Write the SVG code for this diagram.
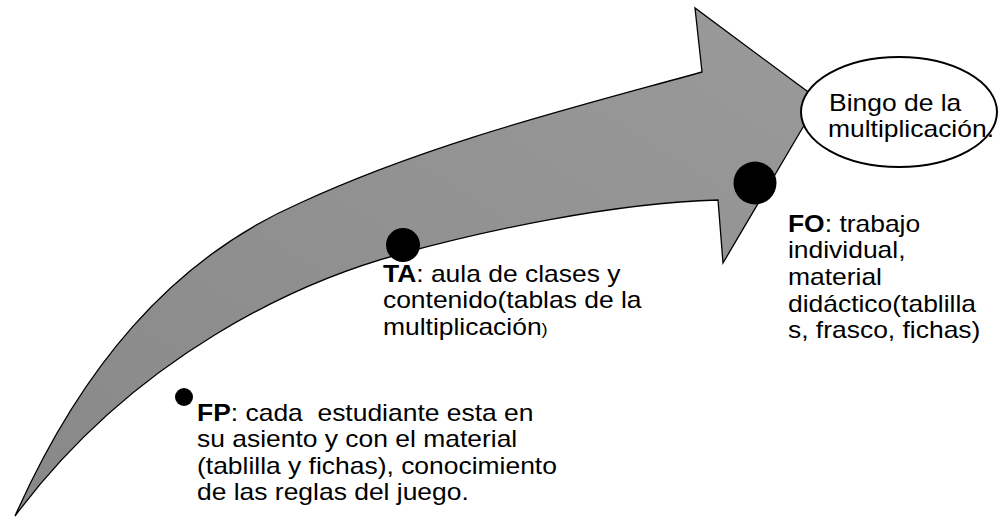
<svg xmlns="http://www.w3.org/2000/svg" width="1000" height="517" viewBox="0 0 1000 517">
<defs>
<linearGradient id="g" x1="0" y1="1" x2="1" y2="0">
<stop offset="0" stop-color="#888888"/>
<stop offset="1" stop-color="#9a9a9a"/>
</linearGradient>
</defs>
<style>
.t{font-family:"Liberation Sans",Arial,sans-serif;font-size:23px;fill:#000;white-space:pre}
.b{font-weight:bold}
.dot{fill:#000}
</style>
<rect width="1000" height="517" fill="#fff"/>
<g id="connectors">
<path id="arrow" d="M 15 516 C 80 370, 170 260, 300 203 C 430 143, 572 108, 702 72 L 695 8 L 819 100 L 723 263 L 718 200 C 610 203, 480 232, 400 254 C 300 281, 135 355, 15 516 Z" fill="url(#g)" stroke="#000" stroke-width="1.3" stroke-linejoin="miter"/>
</g>
<g id="goal">
<ellipse cx="899" cy="112" rx="98" ry="55" fill="#fff" stroke="#000" stroke-width="2"/>
<g transform="scale(1.15 1)">
<text class="t" x="720.9" y="111">Bingo de la</text>
<text class="t" x="720" y="137">multiplicación.</text>
</g>
</g>
<g id="fp">
<circle class="dot" cx="184" cy="397" r="9"/>
<g transform="scale(1.15 1)">
<text class="t" x="171.3" y="421" xml:space="preserve"><tspan class="b">FP</tspan>: cada  estudiante esta en</text>
<text class="t" x="171.3" y="447">su asiento y con el material</text>
<text class="t" x="171.3" y="474">(tablilla y fichas), conocimiento</text>
<text class="t" x="171.3" y="500">de las reglas del juego.</text>
</g>
</g>
<g id="ta">
<circle class="dot" cx="403" cy="245" r="17"/>
<g transform="scale(1.15 1)">
<text class="t" x="333" y="282"><tspan class="b">TA</tspan>: aula de clases y</text>
<text class="t" x="333" y="308">contenido(tablas de la</text>
<text class="t" x="333" y="335">multiplicación<tspan font-size="16">)</tspan></text>
</g>
</g>
<g id="fo">
<circle class="dot" cx="755" cy="183" r="21.5"/>
<g transform="scale(1.15 1)">
<text class="t" x="685.2" y="232"><tspan class="b">FO</tspan>: trabajo</text>
<text class="t" x="685.2" y="258">individual,</text>
<text class="t" x="685.2" y="285">material</text>
<text class="t" x="685.2" y="312">didáctico(tablilla</text>
<text class="t" x="685.2" y="338">s, frasco, fichas)</text>
</g>
</g>
</svg>
